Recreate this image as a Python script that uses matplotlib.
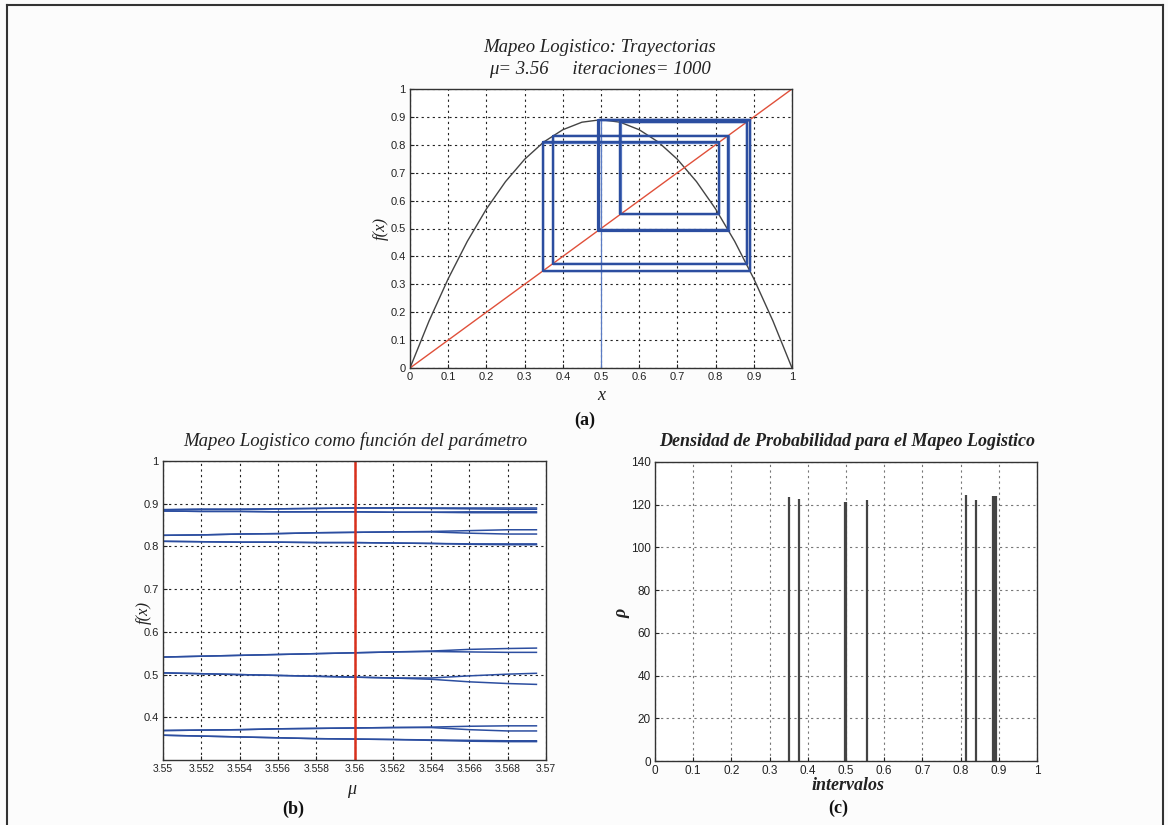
import matplotlib
matplotlib.use('Agg')
import matplotlib.pyplot as plt
from matplotlib.lines import Line2D

W, H = 1168, 825

# (a) logistic map, mu = 3.56
curve_x = [0.00, 0.05, 0.10, 0.15, 0.20, 0.25, 0.30, 0.35, 0.40, 0.45, 0.50,
           0.55, 0.60, 0.65, 0.70, 0.75, 0.80, 0.85, 0.90, 0.95, 1.00]
curve_y = [0.000, 0.169, 0.320, 0.454, 0.570, 0.668, 0.748, 0.810, 0.854, 0.881, 0.890,
           0.881, 0.854, 0.810, 0.748, 0.668, 0.570, 0.454, 0.320, 0.169, 0.000]
orbit = [0.500, 0.890, 0.349, 0.808, 0.552, 0.880, 0.375, 0.834, 0.492,
         0.890, 0.349, 0.809, 0.551, 0.881, 0.374, 0.833, 0.495,
         0.890, 0.349, 0.809, 0.551, 0.881, 0.374, 0.833, 0.495, 0.890]

# (b) branches vs parameter
mu = [3.550, 3.552, 3.554, 3.556, 3.558, 3.560, 3.562, 3.564, 3.566, 3.568, 3.5695]
branches = {
    'b1': ([0.886, 0.887, 0.887, 0.888, 0.889, 0.890, 0.890, 0.890, 0.890, 0.890, 0.890],
           [0.886, 0.887, 0.887, 0.888, 0.889, 0.890, 0.890, 0.889, 0.888, 0.887, 0.887]),
    'b2': ([0.883, 0.882, 0.882, 0.881, 0.881, 0.881, 0.880, 0.880, 0.881, 0.881, 0.881],
           [0.883, 0.882, 0.882, 0.881, 0.881, 0.881, 0.880, 0.880, 0.879, 0.879, 0.879]),
    'b3': ([0.826, 0.827, 0.829, 0.830, 0.832, 0.833, 0.834, 0.835, 0.837, 0.839, 0.839],
           [0.826, 0.827, 0.829, 0.830, 0.832, 0.833, 0.834, 0.834, 0.831, 0.829, 0.829]),
    'b4': ([0.812, 0.811, 0.810, 0.810, 0.809, 0.809, 0.808, 0.807, 0.806, 0.806, 0.806],
           [0.812, 0.811, 0.810, 0.810, 0.809, 0.809, 0.808, 0.807, 0.805, 0.804, 0.804]),
    'b5': ([0.541, 0.543, 0.545, 0.547, 0.549, 0.551, 0.553, 0.555, 0.559, 0.561, 0.562],
           [0.541, 0.543, 0.545, 0.547, 0.549, 0.551, 0.553, 0.554, 0.553, 0.552, 0.552]),
    'b6': ([0.504, 0.502, 0.500, 0.498, 0.496, 0.494, 0.492, 0.492, 0.497, 0.501, 0.503],
           [0.504, 0.502, 0.500, 0.498, 0.496, 0.494, 0.492, 0.489, 0.483, 0.479, 0.477]),
    'b7': ([0.369, 0.370, 0.371, 0.373, 0.374, 0.375, 0.376, 0.377, 0.379, 0.380, 0.380],
           [0.369, 0.370, 0.371, 0.373, 0.374, 0.375, 0.376, 0.376, 0.371, 0.368, 0.368]),
    'b8': ([0.358, 0.356, 0.354, 0.352, 0.350, 0.349, 0.348, 0.347, 0.346, 0.345, 0.345],
           [0.358, 0.356, 0.354, 0.352, 0.350, 0.349, 0.348, 0.346, 0.344, 0.343, 0.343]),
}
mu_mark = 3.56

# (c) density
dens_x = [0.350, 0.376, 0.497, 0.500, 0.555, 0.813, 0.840, 0.884, 0.887, 0.890, 0.893]
dens_y = [123.5, 122.5, 121.5, 121.5, 122.0, 124.5, 122.0, 124.0, 124.0, 124.0, 124.0]

plt.rcParams['font.family'] = ['Liberation Sans', 'DejaVu Sans']
fig = plt.figure(figsize=(W / 100, H / 100), dpi=100)
fig.patch.set_facecolor('#fcfcfc')

def box(l, t, r, b):
    return [l / W, 1 - b / H, (r - l) / W, (b - t) / H]

def ftext(x, y, s, **kw):
    fig.text(x / W, 1 - y / H, s, ha='center', va='center', **kw)

def style(ax, gridcolor='#222222'):
    ax.set_facecolor('white')
    ax.grid(True, linestyle=(0, (2, 3)), color=gridcolor, linewidth=0.8)
    ax.tick_params(direction='in', length=3, labelsize=8, colors='#222222', pad=3)
    for s in ax.spines.values():
        s.set_color('#333333')
        s.set_linewidth(1.0)

serif = ['Liberation Serif', 'DejaVu Serif']

# panel (a)
ax1 = fig.add_axes(box(410, 89, 792, 368))
ax1.plot(curve_x, curve_y, color='#444444', lw=1.0)
ax1.plot([0, 1], [0, 1], color='#e0503a', lw=1.0)
px, py = [orbit[0]], [0.0]
for i in range(1, len(orbit)):
    px += [orbit[i - 1], orbit[i]]
    py += [orbit[i], orbit[i]]
ax1.plot(px[:16], py[:16], color='#5b7cc4', lw=0.9)
ax1.plot(px[15:], py[15:], color='#2c4ea0', lw=1.6)
ax1.set_xlim(0, 1)
ax1.set_ylim(0, 1)
ax1.set_xticks([i / 10 for i in range(11)])
ax1.set_yticks([i / 10 for i in range(11)])
ax1.set_xticklabels(['0', '0.1', '0.2', '0.3', '0.4', '0.5', '0.6', '0.7', '0.8', '0.9', '1'])
ax1.set_yticklabels(['0', '0.1', '0.2', '0.3', '0.4', '0.5', '0.6', '0.7', '0.8', '0.9', '1'])
style(ax1)

# panel (b)
ax2 = fig.add_axes(box(163, 461, 546, 760))
for hi, lo in branches.values():
    ax2.plot(mu, hi, color='#2c4ea0', lw=1.1)
    ax2.plot(mu, lo, color='#2c4ea0', lw=1.1)
ax2.axvline(mu_mark, color='#d8301c', lw=1.8)
ax2.set_xlim(3.55, 3.57)
ax2.set_ylim(0.3, 1)
ax2.set_xticks([3.55 + 0.002 * i for i in range(11)])
ax2.set_xticklabels(['3.55', '3.552', '3.554', '3.556', '3.558', '3.56',
                     '3.562', '3.564', '3.566', '3.568', '3.57'])
ax2.set_yticks([0.4, 0.5, 0.6, 0.7, 0.8, 0.9, 1.0])
ax2.set_yticklabels(['0.4', '0.5', '0.6', '0.7', '0.8', '0.9', '1'])
style(ax2)
ax2.tick_params(axis='x', labelsize=7.5)

# panel (c)
ax3 = fig.add_axes(box(655, 462, 1037, 761))
ax3.vlines(dens_x, 0, dens_y, color='#444444', lw=1.6)
ax3.set_xlim(0, 1)
ax3.set_ylim(0, 140)
ax3.set_xticks([i / 10 for i in range(11)])
ax3.set_xticklabels(['0', '0.1', '0.2', '0.3', '0.4', '0.5', '0.6', '0.7', '0.8', '0.9', '1'])
ax3.set_yticks(range(0, 141, 20))
style(ax3, gridcolor='#777777')
ax3.tick_params(labelsize=8.5)

# texts
tkw = dict(family=serif, style='italic', fontsize=13.5, color='#222222')
ftext(600, 48, 'Mapeo Logistico: Trayectorias', **tkw)
ftext(600, 69, 'μ= 3.56     iteraciones= 1000', **tkw)
ftext(355, 441, 'Mapeo Logistico como función del parámetro', **tkw)
ftext(847, 441, 'Densidad de Probabilidad para el Mapeo Logistico', weight='bold',
      family=serif, style='italic', fontsize=13, color='#222222')

ftext(601, 396, 'x', family=serif, style='italic', fontsize=13, color='#222222')
ftext(381, 229, 'f(x)', family=serif, style='italic', fontsize=12, color='#222222', rotation=90)
ftext(144, 612, 'f(x)', family=serif, style='italic', fontsize=12, color='#222222', rotation=90)
ftext(352, 789, 'μ', family=serif, style='italic', fontsize=13, color='#222222')
ftext(622, 613, 'ρ', family=serif, style='italic', fontsize=13, weight='bold', color='#222222', rotation=90)
ftext(848, 786, 'intervalos', family=serif, style='italic', weight='bold', fontsize=13, color='#222222')

lkw = dict(family=serif, weight='bold', fontsize=13, color='#111111')
ftext(585, 420, '(a)', **lkw)
ftext(293, 809, '(b)', **lkw)
ftext(838, 808, '(c)', **lkw)

# page frame
for xs, ys in [([7, 7], [5, 825]), ([7, 1163], [5, 5]), ([1163, 1163], [5, 825])]:
    fig.add_artist(Line2D([x / W for x in xs], [1 - y / H for y in ys],
                          color='#333333', lw=1.5))

fig.savefig('out.png', dpi=100, facecolor=fig.get_facecolor())
